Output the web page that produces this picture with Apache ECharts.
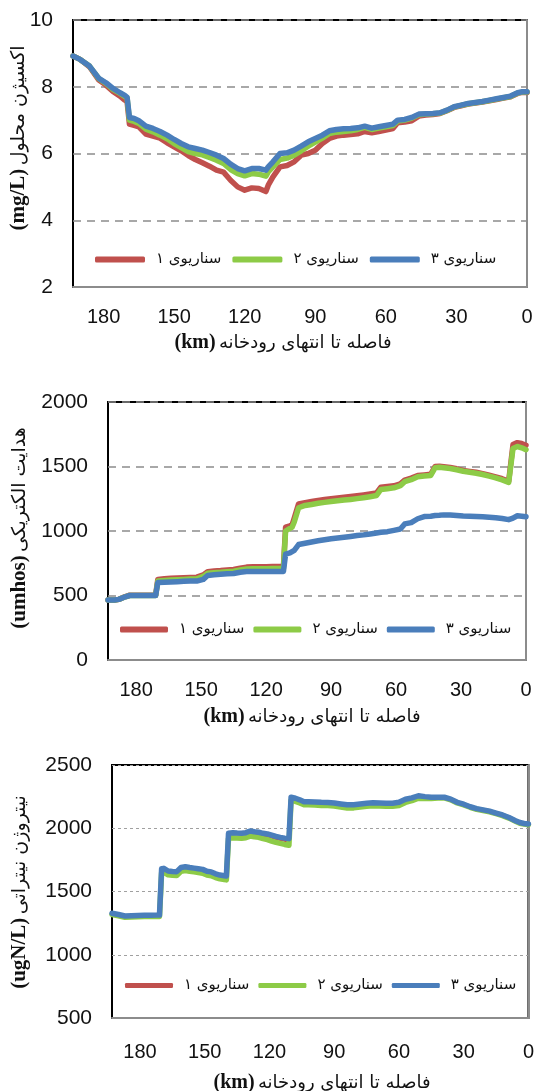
<!DOCTYPE html>
<html>
<head>
<meta charset="utf-8">
<script src="https://cdn.jsdelivr.net/npm/echarts@6/dist/echarts.min.js"></script>
<style>
html,body{margin:0;padding:0;background:#fff;}
#c{width:537px;height:1091px;}
</style>
</head>
<body>
<div id="c"></div>
<script>
// ---------- Chart 1: dissolved oxygen (mg/L) ----------
const KM1 = [193,190,186,182,179,176,173,171,170,
  169,167,165,
  162,159,156,153,150,147,144,141,138,135,132,129,126,123,120,117,114,111,
  110,108,
  105,102,99,96,93,90,87,84,81,78,75,72,69,66,63,60,57,
  55,52,49,46,43,40,37,34,31,28,25,22,19,16,13,10,7,4,
  2,0];
const DO_S1 = [8.92,8.82,8.60,8.20,8.05,7.86,7.72,7.60,7.55,
  6.88,6.84,6.80,
  6.58,6.52,6.46,6.32,6.20,6.08,5.94,5.82,5.72,5.62,5.50,5.44,5.20,5.00,4.90,4.97,4.95,4.86,
  5.05,5.30,
  5.60,5.64,5.75,5.95,6.00,6.10,6.30,6.45,6.52,6.55,6.57,6.59,6.66,6.62,6.66,6.70,6.75,
  6.92,6.94,6.98,7.12,7.15,7.17,7.20,7.28,7.38,7.43,7.48,7.51,7.54,7.58,7.62,7.66,7.70,7.80,
  7.83,7.83];
const DO_S2 = [8.92,8.82,8.62,8.24,8.10,7.92,7.80,7.71,7.66,
  7.00,6.96,6.90,
  6.73,6.65,6.55,6.44,6.30,6.18,6.06,6.00,5.96,5.88,5.80,5.70,5.52,5.40,5.33,5.40,5.38,5.32,
  5.45,5.60,
  5.82,5.86,5.95,6.08,6.22,6.34,6.46,6.60,6.64,6.66,6.68,6.72,6.78,6.72,6.76,6.80,6.84,
  6.97,7.00,7.06,7.16,7.18,7.19,7.21,7.29,7.39,7.44,7.49,7.52,7.55,7.59,7.63,7.67,7.71,7.81,
  7.84,7.84];
const DO_S3 = [8.92,8.82,8.62,8.25,8.12,7.95,7.82,7.74,7.68,
  7.08,7.05,6.98,
  6.82,6.75,6.66,6.55,6.42,6.30,6.20,6.15,6.10,6.03,5.95,5.85,5.68,5.55,5.48,5.55,5.55,5.50,
  5.60,5.75,
  6.00,6.02,6.10,6.22,6.35,6.45,6.55,6.68,6.72,6.74,6.75,6.77,6.82,6.76,6.80,6.84,6.88,
  7.00,7.02,7.08,7.18,7.19,7.20,7.22,7.30,7.40,7.45,7.50,7.53,7.56,7.60,7.64,7.68,7.72,7.82,
  7.85,7.85];

// ---------- Chart 2: electrical conductivity (umhos) ----------
const KM2 = [193,190,188,185,183,180,175,172,171,
  170,167,164,161,158,155,152,149,147,144,141,138,135,132,129,126,123,120,117,114,112,
  111,109,108,107,105,
  102,99,96,93,90,87,84,81,78,75,72,69,
  67,64,61,58,56,53,50,47,44,42,40,38,
  35,32,29,26,23,20,17,14,11,8,
  6,4,2,0];
const EC_S1 = [465,465,470,492,502,502,502,502,502,
  625,630,633,636,638,640,642,660,685,690,693,698,702,712,720,722,722,722,724,724,724,
  1030,1040,1048,1100,1210,
  1220,1228,1237,1244,1250,1256,1262,1267,1273,1280,1288,1295,
  1340,1345,1350,1365,1395,1410,1430,1435,1440,1500,1502,1498,
  1492,1482,1470,1462,1455,1445,1432,1420,1405,1385,
  1670,1685,1678,1665];
const EC_S2 = [465,465,470,490,500,500,500,500,500,
  612,617,620,623,625,627,629,648,672,677,680,685,689,698,706,708,708,708,710,710,710,
  1000,1020,1030,1070,1180,
  1198,1206,1215,1222,1228,1234,1240,1245,1251,1258,1266,1275,
  1322,1328,1335,1352,1382,1398,1420,1426,1430,1490,1494,1490,
  1485,1475,1463,1455,1448,1438,1425,1412,1396,1376,
  1640,1655,1645,1630];
const EC_S3 = [465,465,470,490,500,500,500,500,500,
  600,603,605,607,610,612,612,625,655,660,665,668,670,680,686,686,686,686,686,686,686,
  820,830,840,850,895,
  905,915,924,932,940,946,952,958,965,970,977,985,
  990,995,1005,1015,1055,1065,1095,1112,1115,1120,1122,1125,
  1124,1120,1116,1115,1112,1110,1107,1103,1097,1088,
  1100,1118,1115,1110];

// ---------- Chart 3: nitrate nitrogen (ugN/L) ----------
const KM3 = [193,190,187,184,181,178,175,172,171,
  170,169,167,165,163,161,159,157,155,153,151,149,147,145,143,141,140,
  139,137,135,133,131,129,127,125,123,121,119,117,115,113,111,
  110,108,106,104,102,
  99,96,93,90,87,84,81,78,75,72,69,66,63,60,57,54,51,
  48,45,42,39,36,33,30,27,24,21,18,15,12,9,6,
  4,2,0];
const N_S1 = [1323,1313,1301,1303,1306,1307,1308,1309,1309,
  1672,1676,1656,1652,1651,1684,1690,1684,1679,1674,1669,1654,1649,1634,1624,1619,1616,
  1952,1957,1954,1952,1957,1970,1962,1955,1945,1938,1928,1918,1910,1904,1900,
  2232,2224,2212,2197,2197,
  2195,2192,2191,2187,2179,2172,2173,2179,2185,2189,2187,2185,2185,2195,2222,2235,2252,
  2246,2242,2242,2242,2227,2202,2187,2167,2152,2142,2132,2117,2102,2082,2057,
  2042,2035,2031];
const N_S2 = [1318,1308,1296,1298,1301,1302,1303,1304,1302,
  1650,1653,1632,1628,1627,1660,1666,1660,1655,1650,1645,1630,1625,1610,1600,1595,1592,
  1920,1925,1922,1920,1925,1938,1932,1928,1918,1910,1898,1888,1880,1872,1866,
  2220,2212,2200,2185,2185,
  2183,2180,2179,2175,2167,2160,2161,2167,2173,2177,2175,2173,2173,2180,2204,2218,2238,
  2236,2236,2240,2240,2225,2200,2185,2166,2150,2140,2130,2115,2100,2080,2055,
  2040,2033,2028];
const N_S3 = [1328,1318,1306,1308,1311,1312,1313,1314,1314,
  1680,1683,1662,1658,1657,1690,1696,1690,1685,1680,1675,1660,1655,1640,1630,1625,1622,
  1960,1965,1962,1960,1965,1978,1972,1968,1960,1955,1945,1935,1928,1922,1918,
  2245,2237,2225,2210,2210,
  2208,2205,2204,2200,2192,2185,2186,2192,2198,2202,2200,2198,2198,2205,2229,2240,2257,
  2250,2245,2245,2245,2230,2205,2190,2170,2155,2145,2135,2120,2105,2085,2060,
  2045,2038,2034];

const SERIES_NAMES = ['سناریوی ۱', 'سناریوی ۲', 'سناریوی ۳'];
const X_TICKS = [180, 150, 120, 90, 60, 30, 0];
const X_TITLE = 'فاصله تا انتهای رودخانه';
const Y_TITLES = [['(mg/L)', 'اکسیژن محلول'], ['(umhos)', 'هدایت الکتریکی'], ['(ugN/L)', 'نیتروژن نیتراتی']];
const Y_RANGES = [[2, 10, 2], [0, 2000, 500], [500, 2500, 500]];

const COLORS = ['#C0504D', '#8DCB47', '#4A7EBB'];
const GRIDS = [
  {left: 73, top: 20, width: 454, height: 267},
  {left: 108, top: 402, width: 418, height: 258},
  {left: 112, top: 765, width: 418, height: 253}
];
const LEG = [{left: 95, top: 252, iw: 50, gap: 11}, {left: 120, top: 622, iw: 48, gap: 9}, {left: 125, top: 978, iw: 48, gap: 9}];
const XTITLE_POS = [[283, 343], [312, 717], [322, 1083]];
const YTITLE_POS = [[19, 138], [20, 528], [20, 892]];

const KMS = [KM1, KM2, KM3];
const VALS = [[DO_S1, DO_S2, DO_S3], [EC_S1, EC_S2, EC_S3], [N_S1, N_S2, N_S3]];

const chart = echarts.init(document.getElementById('c'), null, {renderer: 'canvas'});

const grid = [], xAxis = [], yAxis = [], series = [], legend = [], graphic = [];
for (let i = 0; i < 3; i++) {
  grid.push(Object.assign({show: true, borderColor: '#000', borderWidth: 2, backgroundColor: 'transparent'}, GRIDS[i]));
  xAxis.push({
    type: 'value', gridIndex: i, min: 0, max: 193, interval: 30, inverse: true,
    axisLine: {show: true, onZero: false, lineStyle: {color: '#8c8c8c', width: 2}},
    axisTick: {show: false},
    splitLine: {show: false},
    axisLabel: {
      margin: i === 2 ? 24 : 20, fontSize: 20, color: '#111', fontFamily: 'Liberation Sans',
      formatter: v => (X_TICKS.indexOf(v) >= 0 ? String(v) : '')
    }
  });
  const dashed = i === 2 ? {color: '#a0a0a0', width: 1, type: [3, 3]} : {color: '#8c8c8c', width: 1.6, type: [8, 6]};
  yAxis.push({
    type: 'value', gridIndex: i, min: Y_RANGES[i][0], max: Y_RANGES[i][1], interval: Y_RANGES[i][2],
    axisLine: {show: true, lineStyle: {color: '#8c8c8c', width: 2}},
    axisTick: {show: false},
    splitLine: {show: true, lineStyle: dashed},
    axisLabel: {margin: 20, fontSize: 21, color: '#111', fontFamily: 'Liberation Sans',
      formatter: v => String(v)}
  });
  for (let s = 0; s < 3; s++) {
    const km = KMS[i], v = VALS[i][s];
    const w = (i === 2 && s === 0) ? 3 : 5.5;
    series.push({
      type: 'line', name: SERIES_NAMES[s], xAxisIndex: i, yAxisIndex: i,
      data: km.map((k, j) => [k, v[j]]),
      showSymbol: false, symbol: 'none', smooth: false,
      color: COLORS[s],
      lineStyle: {color: COLORS[s], width: w, cap: 'round', join: 'round'},
      z: 2 + s, animation: false
    });
  }
  legend.push({
    left: LEG[i].left, top: LEG[i].top, width: 440, orient: 'horizontal', padding: 0,
    data: SERIES_NAMES.map((n, s) => ({
      name: n, icon: 'roundRect',
      itemStyle: {color: COLORS[s]}
    })),
    itemWidth: LEG[i].iw, itemHeight: (i === 2 ? 5 : 6), itemGap: LEG[i].gap,
    textStyle: {fontSize: 15, fontFamily: 'DejaVu Sans', color: '#111', padding: [0, 0, 0, 6]},
    selectedMode: false
  });
  graphic.push({
    type: 'text', x: XTITLE_POS[i][0], y: XTITLE_POS[i][1],
    style: {
      text: '{b|(km)} {a|' + X_TITLE + '}',
      align: 'center', verticalAlign: 'middle',
      rich: {
        b: {font: 'bold 20px "Liberation Serif"', fill: '#111'},
        a: {font: '18px "DejaVu Sans"', fill: '#111'}
      }
    }
  });
  graphic.push({
    type: 'text', x: YTITLE_POS[i][0], y: YTITLE_POS[i][1], rotation: Math.PI / 2,
    style: {
      text: '{b|' + Y_TITLES[i][0] + '} {a|' + Y_TITLES[i][1] + '}',
      align: 'center', verticalAlign: 'middle',
      rich: {
        b: {font: 'bold 21px "Liberation Serif"', fill: '#111'},
        a: {font: '19px "DejaVu Sans"', fill: '#111'}
      }
    }
  });
}

chart.setOption({
  animation: false,
  backgroundColor: '#fff',
  grid, xAxis, yAxis, series, legend, graphic
});
</script>
</body>
</html>
